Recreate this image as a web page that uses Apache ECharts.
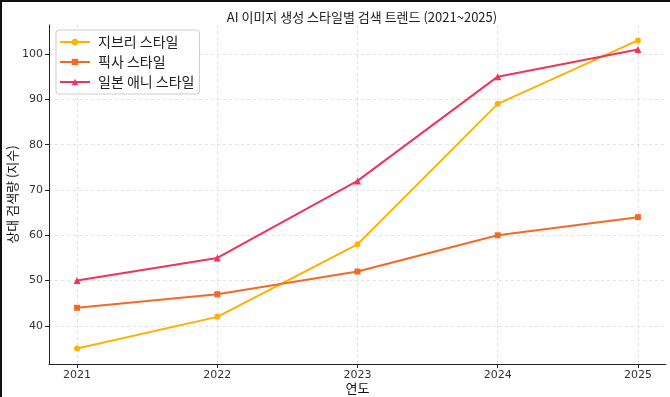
<!DOCTYPE html>
<html><head><meta charset="utf-8">
<script src="https://cdn.jsdelivr.net/npm/echarts@6/dist/echarts.min.js"></script>
<style>html,body{margin:0;padding:0;background:#fff}#c{width:670px;height:397px}</style>
</head><body><div id="c"></div>
<script>
const years = [2021, 2022, 2023, 2024, 2025];
const yTicks = [40, 50, 60, 70, 80, 90, 100];
const seriesNames = ['지브리 스타일', '픽사 스타일', '일본 애니 스타일'];
const ghibli = [35, 42, 58, 89, 103];
const pixar = [44, 47, 52, 60, 64];
const anime = [50, 55, 72, 95, 101];
const colors = ['#FFB000', '#F46A25', '#F0345A'];
const symbols = ['circle', 'rect', 'triangle'];
const font = '"Noto Sans CJK KR", "DejaVu Sans", sans-serif';
const numFont = '"DejaVu Sans", sans-serif';

const chart = echarts.init(document.getElementById('c'), null, {renderer: 'canvas'});
const allSeries = [ghibli, pixar, anime].map((vals, i) => ({
  name: seriesNames[i],
  type: 'line',
  data: vals.map((v, j) => [years[j], v]),
  symbol: symbols[i],
  symbolSize: i === 2 ? 7 : 6,
  showSymbol: true,
  lineStyle: {width: 2, color: colors[i]},
  itemStyle: {color: colors[i]},
  emphasis: {disabled: true},
  z: 3 + i
}));

chart.setOption({
  animation: false,
  backgroundColor: '#fff',
  title: {
    text: 'AI 이미지 생성 스타일별 검색 트렌드 (2021~2025)',
    left: 357, top: 6, textAlign: 'center',
    textStyle: {fontFamily: font, fontSize: 13, fontWeight: 'normal', color: '#222'}
  },
  legend: {
    orient: 'vertical', left: 56, top: 30,
    data: seriesNames,
    itemWidth: 30, itemHeight: 8, itemGap: 6,
    padding: [5, 5, 5, 3],
    borderColor: '#ccc', borderWidth: 1, borderRadius: 3,
    backgroundColor: 'rgba(255,255,255,0.85)',
    textStyle: {fontFamily: font, fontSize: 14, color: '#222', padding: [0, 0, 0, 3]}
  },
  grid: {left: 49, right: 4, top: 25, bottom: 33, containLabel: false, outerBoundsMode: 'none'},
  xAxis: {
    type: 'value', min: 2020.8, max: 2025.2,
    name: '연도', nameLocation: 'middle', nameGap: 18, nameMoveOverlap: false,
    nameTextStyle: {fontFamily: font, fontSize: 13, color: '#111'},
    axisLine: {onZero: false, lineStyle: {color: '#222', width: 1}},
    axisTick: {show: true, customValues: years, length: 4, inside: false, lineStyle: {color: '#222'}},
    axisLabel: {customValues: years, fontFamily: numFont, fontSize: 11, color: '#333', margin: 6, formatter: v => String(v)},
    splitLine: {show: true, lineStyle: {color: '#e2e2e2', type: [3, 3], width: 1}}
  },
  yAxis: {
    type: 'value', min: 31.6, max: 106.4,
    name: '상대 검색량 (지수)', nameLocation: 'middle', nameGap: 30, nameRotate: 90, nameMoveOverlap: false,
    nameTextStyle: {fontFamily: font, fontSize: 13, color: '#111'},
    axisLine: {show: true, onZero: false, lineStyle: {color: '#222', width: 1}},
    axisTick: {show: true, customValues: yTicks, length: 4, lineStyle: {color: '#222'}},
    axisLabel: {customValues: yTicks, fontFamily: numFont, fontSize: 11, color: '#333', margin: 6},
    splitLine: {show: true, lineStyle: {color: '#e2e2e2', type: [3, 3], width: 1}}
  },
  graphic: [
    {type: 'rect', left: 0, top: 0, shape: {width: 670, height: 2}, style: {fill: '#111'}, silent: true},
    {type: 'rect', left: 0, top: 0, shape: {width: 2, height: 397}, style: {fill: '#111'}, silent: true}
  ],
  series: allSeries
});
</script></body></html>
